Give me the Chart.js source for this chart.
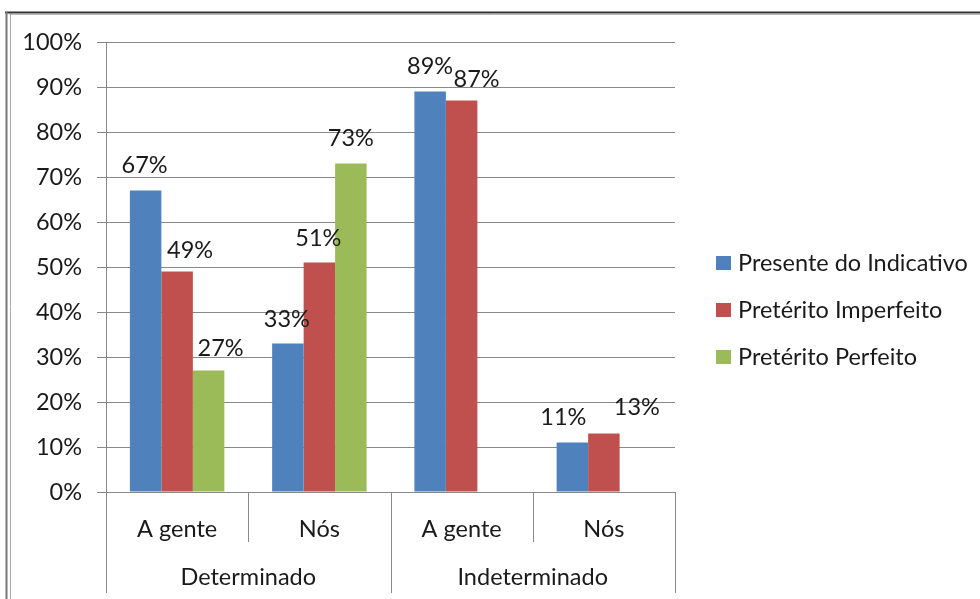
<!DOCTYPE html>
<html>
<head>
<meta charset="utf-8">
<script src="https://cdn.jsdelivr.net/npm/chart.js@4.4.0/dist/chart.umd.min.js"></script>
<style>
  html, body { margin: 0; padding: 0; background: #fff; overflow: hidden; }
  canvas { display: block; }
</style>
</head>
<body>
<canvas id="grafico" width="980" height="599"></canvas>
<script>
// dados
const categorias = ['A gente', 'Nós', 'A gente', 'Nós']
const grupos = ['Determinado', 'Indeterminado']
const series = ['Presente do Indicativo', 'Pretérito Imperfeito', 'Pretérito Perfeito']
const presente = [67, 33, 89, 11]
const imperfeito = [49, 51, 87, 13]
const perfeito = [27, 73, null, null]
const ticksY = [0, 10, 20, 30, 40, 50, 60, 70, 80, 90, 100]

const cores = ['#4F81BD', '#C0504D', '#9BBB59']
const corTexto = '#1a1a1a'
const corLinha = '#888888'
const fonte = '23.5px Lato'

// deslocamento manual dos rotulos [dx, dy] (como no original)
const deslocRotulos = [
  [[-1, 0], [-1, 1], [0, 0], [-9, 0]],
  [[13, 4], [-1, 1], [15, 4], [33, -1]],
  [[12, 3], [0, 0], [0, 0], [0, 0]]
]

const extras = {
  id: 'extras',
  beforeDraw(chart) {
    const ctx = chart.ctx
    ctx.save()
    ctx.fillStyle = '#fff'
    ctx.fillRect(0, 0, chart.width, chart.height)
    // moldura
    ctx.strokeStyle = '#333'
    ctx.lineWidth = 2
    ctx.beginPath()
    ctx.moveTo(5, 12.5); ctx.lineTo(chart.width, 12.5)
    ctx.stroke()
    ctx.strokeStyle = '#bbb'
    ctx.lineWidth = 1
    ctx.beginPath()
    ctx.moveTo(9, 14.5); ctx.lineTo(chart.width, 14.5)
    ctx.stroke()
    ctx.strokeStyle = '#777'
    ctx.lineWidth = 2
    ctx.beginPath()
    ctx.moveTo(6.5, 12); ctx.lineTo(6.5, chart.height)
    ctx.stroke()
    ctx.strokeStyle = '#aaa'
    ctx.lineWidth = 1
    ctx.beginPath()
    ctx.moveTo(10.5, 14); ctx.lineTo(10.5, chart.height)
    ctx.stroke()
    ctx.restore()
  },
  afterDraw(chart) {
    const ctx = chart.ctx
    const area = chart.chartArea
    const w = (area.right - area.left) / categorias.length
    ctx.save()

    // separadores das categorias
    ctx.strokeStyle = corLinha
    ctx.lineWidth = 1
    for (let i = 0; i <= categorias.length; i++) {
      const px = Math.round(area.left + i * w) + 0.5
      const fim = (i % 2 === 0) ? 593 : 542
      ctx.beginPath()
      ctx.moveTo(px, area.bottom)
      ctx.lineTo(px, fim)
      ctx.stroke()
    }

    // rotulos dos grupos
    ctx.font = fonte
    ctx.fillStyle = corTexto
    ctx.textAlign = 'center'
    ctx.textBaseline = 'middle'
    grupos.forEach((g, i) => {
      ctx.fillText(g, area.left + (2 * i + 1) * w, 577)
    })

    // rotulos de dados
    ctx.textBaseline = 'alphabetic'
    chart.data.datasets.forEach((ds, i) => {
      const meta = chart.getDatasetMeta(i)
      meta.data.forEach((el, j) => {
        const v = ds.data[j]
        if (v === null || v === undefined) return
        const d = deslocRotulos[i][j]
        ctx.fillText(v + '%', el.x + d[0], el.y - 18 + d[1])
      })
    })

    // legenda
    ctx.textAlign = 'left'
    ctx.textBaseline = 'middle'
    series.forEach((s, i) => {
      const cy = 263 + i * 47
      ctx.fillStyle = cores[i]
      ctx.fillRect(716, cy - 7, 15, 14)
      ctx.fillStyle = corTexto
      ctx.fillText(s, 738, cy)
    })
    ctx.restore()
  }
}

Chart.defaults.font.family = 'Lato'
Chart.defaults.font.size = 23.5
Chart.defaults.color = corTexto

const dados = {
  labels: categorias,
  datasets: [
    { label: series[0], data: presente, backgroundColor: cores[0] },
    { label: series[1], data: imperfeito, backgroundColor: cores[1] },
    { label: series[2], data: perfeito, backgroundColor: cores[2] }
  ]
}

const config = {
  type: 'bar',
  data: dados,
  options: {
    responsive: false,
    animation: false,
    layout: { padding: { top: 42, right: 305, left: 0, bottom: 0 } },
    datasets: { bar: { barPercentage: 1, categoryPercentage: 0.664 } },
    plugins: { legend: { display: false }, tooltip: { enabled: false } },
    scales: {
      x: {
        grid: { display: false },
        border: { display: false },
        ticks: { padding: 15, color: corTexto },
        afterFit(scale) { scale.height = 107 }
      },
      y: {
        min: 0,
        max: 100,
        afterBuildTicks(scale) { scale.ticks = ticksY.map(v => ({ value: v })) },
        grid: { color: corLinha, tickLength: 9 },
        border: { color: corLinha },
        ticks: { padding: 15, color: corTexto, callback: v => v + '%' },
        afterFit(scale) { scale.width = 106 }
      }
    }
  },
  plugins: [extras]
}

const grafico = new Chart(document.getElementById('grafico'), config)
</script>
</body>
</html>
